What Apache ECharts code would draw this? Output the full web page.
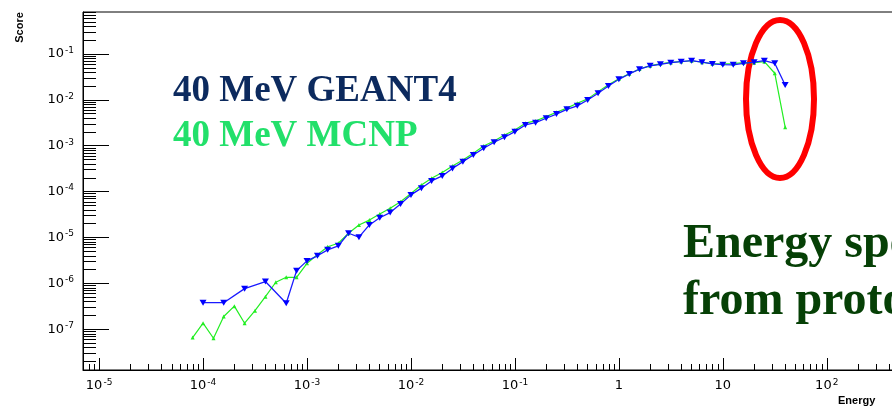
<!DOCTYPE html>
<html>
<head>
<meta charset="utf-8">
<script src="https://cdn.jsdelivr.net/npm/echarts@6/dist/echarts.min.js"></script>
<style>
  html, body { margin: 0; padding: 0; background: #fff; }
  #chart { width: 892px; height: 410px; }
</style>
</head>
<body>
<div id="chart"></div>
<script>
// Energy bin centres (MeV), ten log bins per decade
const energyBins = [
  7.94e-5,
  1.00e-4, 1.26e-4, 1.58e-4, 2.00e-4, 2.51e-4, 3.16e-4, 3.98e-4, 5.01e-4, 6.31e-4, 7.94e-4,
  1.00e-3, 1.26e-3, 1.58e-3, 2.00e-3, 2.51e-3, 3.16e-3, 3.98e-3, 5.01e-3, 6.31e-3, 7.94e-3,
  1.00e-2, 1.26e-2, 1.58e-2, 2.00e-2, 2.51e-2, 3.16e-2, 3.98e-2, 5.01e-2, 6.31e-2, 7.94e-2,
  0.100, 0.126, 0.158, 0.200, 0.251, 0.316, 0.398, 0.501, 0.631, 0.794,
  1.00, 1.26, 1.58, 2.00, 2.51, 3.16, 3.98, 5.01, 6.31, 7.94,
  10.0, 12.6, 15.8, 20.0, 25.1, 31.6, 39.8
];

// GEANT4 score per bin (null = empty bin)
const scoreGeant4 = [
  null,
  3.8e-7, null, 3.8e-7, null, 7.7e-7, null, 1.1e-6, null, 3.7e-7, 1.9e-6,
  3.1e-6, 4.0e-6, 5.4e-6, 6.6e-6, 1.24e-5, 1.02e-5, 1.88e-5, 2.7e-5, 3.5e-5, 5.4e-5,
  8.5e-5, 1.19e-4, 1.71e-4, 2.2e-4, 3.2e-4, 4.5e-4, 6.3e-4, 8.8e-4, 1.19e-3, 1.53e-3,
  2.03e-3, 2.84e-3, 3.18e-3, 3.97e-3, 4.9e-3, 6.2e-3, 7.4e-3, 9.95e-3, 1.39e-2, 2.0e-2,
  2.8e-2, 3.65e-2, 4.65e-2, 5.5e-2, 5.95e-2, 6.45e-2, 6.8e-2, 7.15e-2, 6.6e-2, 6.05e-2,
  5.85e-2, 5.8e-2, 6.25e-2, 6.6e-2, 7.15e-2, 6.25e-2, 2.1e-2
];

// MCNP score per bin
const scoreMcnp = [
  6.6e-8,
  1.36e-7, 6.4e-8, 1.9e-7, 3.2e-7, 1.36e-7, 2.55e-7, 5.15e-7, 1.06e-6, 1.36e-6, 1.36e-6,
  2.75e-6, 4.2e-6, 6.3e-6, 7.5e-6, 1.24e-5, 1.88e-5, 2.4e-5, 3.25e-5, 4.35e-5, 6.05e-5,
  9.1e-5, 1.4e-4, 1.96e-4, 2.6e-4, 3.63e-4, 4.9e-4, 6.9e-4, 9.9e-4, 1.27e-3, 1.72e-3,
  2.21e-3, 3.1e-3, 3.47e-3, 4.3e-3, 5.37e-3, 6.6e-3, 8.4e-3, 1.05e-2, 1.51e-2, 2.14e-2,
  2.88e-2, 3.7e-2, 4.7e-2, 5.55e-2, 6.1e-2, 6.55e-2, 6.85e-2, 7.1e-2, 6.6e-2, 6.15e-2,
  6.1e-2, 6.15e-2, 6.45e-2, 6.45e-2, 6.8e-2, 3.8e-2, 2.53e-3
];

// Decade ticks and labels on each axis
const xDecadeTicks = [1e-5, 1e-4, 1e-3, 1e-2, 1e-1, 1, 10, 100, 1000];
const xTickLabels = [1e-5, 1e-4, 1e-3, 1e-2, 1e-1, 1, 10, 100];
const yTickLabels = [1e-7, 1e-6, 1e-5, 1e-4, 1e-3, 1e-2, 1e-1];

const X_MIN = 7e-6, X_MAX = 2e3;
const Y_MIN = 1.3e-8, Y_MAX = 0.82;

// 2..9 x 10^n sub-decade tick positions inside a range
function minorTicks(lo, hi) {
  const out = [];
  for (let n = -10; n <= 4; n++) {
    for (let k = 2; k <= 9; k++) {
      const v = k * Math.pow(10, n);
      if (v >= lo && v <= hi) out.push(v);
    }
  }
  return out;
}

function decadeLabel(v) {
  const e = Math.round(Math.log10(v));
  if (e === 0) return '1';
  if (e === 1) return '10';
  return '10{sup|' + e + '}';
}

const labelRich = {
  sup: { fontSize: 9, fontFamily: 'DejaVu Sans', color: '#000', verticalAlign: 'top', lineHeight: 9, padding: [0, 0, 0, 1] }
};

const chart = echarts.init(document.getElementById('chart'), null, { renderer: 'canvas' });

const tickLine = { color: '#000', width: 1 };

chart.setOption({
  animation: false,
  backgroundColor: '#fff',
  grid: {
    left: 83, top: 12, width: 879, height: 358,
    outerBoundsMode: 'none', containLabel: false,
    show: true, borderColor: '#000', borderWidth: 1, backgroundColor: 'transparent'
  },
  xAxis: [
    {
      type: 'log', logBase: 10, min: X_MIN, max: X_MAX, position: 'bottom',
      axisLine: { show: true, lineStyle: tickLine },
      axisTick: { show: true, inside: true, length: 12, lineStyle: tickLine, customValues: xDecadeTicks },
      axisLabel: {
        show: true, customValues: xTickLabels, formatter: decadeLabel, margin: 8,
        fontFamily: 'DejaVu Sans', fontSize: 13, color: '#000', lineHeight: 16, rich: labelRich
      },
      splitLine: { show: false }, minorTick: { show: false }
    },
    {
      type: 'log', logBase: 10, min: X_MIN, max: X_MAX, position: 'bottom',
      axisLine: { show: false },
      axisTick: { show: true, inside: true, length: 6, lineStyle: tickLine, customValues: minorTicks(X_MIN, X_MAX) },
      axisLabel: { show: false }, splitLine: { show: false }
    }
  ],
  yAxis: [
    {
      type: 'log', logBase: 10, min: Y_MIN, max: Y_MAX, position: 'left',
      axisLine: { show: true, lineStyle: tickLine },
      axisTick: { show: true, inside: true, length: 26, lineStyle: tickLine, customValues: yTickLabels },
      axisLabel: {
        show: true, customValues: yTickLabels, formatter: decadeLabel, margin: 9,
        fontFamily: 'DejaVu Sans', fontSize: 13, color: '#000', lineHeight: 16, rich: labelRich
      },
      splitLine: { show: false }, minorTick: { show: false }
    },
    {
      type: 'log', logBase: 10, min: Y_MIN, max: Y_MAX, position: 'left',
      axisLine: { show: false },
      axisTick: { show: true, inside: true, length: 13, lineStyle: tickLine, customValues: minorTicks(Y_MIN, Y_MAX) },
      axisLabel: { show: false }, splitLine: { show: false }
    }
  ],
  series: [
    {
      name: '40 MeV MCNP', type: 'line', xAxisIndex: 0, yAxisIndex: 0,
      data: energyBins.map((e, i) => [e, scoreMcnp[i]]),
      connectNulls: true,
      lineStyle: { color: '#22ee22', width: 1.2 },
      itemStyle: { color: '#22ee22' },
      symbol: 'triangle', symbolSize: 4, showSymbol: true
    },
    {
      name: '40 MeV GEANT4', type: 'line', xAxisIndex: 0, yAxisIndex: 0,
      data: energyBins.map((e, i) => [e, scoreGeant4[i]]),
      connectNulls: true,
      lineStyle: { color: '#1a1aff', width: 1.3 },
      itemStyle: { color: '#0000ff' },
      symbol: 'triangle', symbolRotate: 180, symbolSize: [7, 6], showSymbol: true
    }
  ],
  graphic: [
    {
      type: 'text', x: 20, y: 27.5, rotation: Math.PI / 2,
      style: { text: 'Score', font: 'bold 11px "Liberation Sans"', fill: '#000', align: 'center', verticalAlign: 'middle' }
    },
    {
      type: 'text', x: 838, y: 401,
      style: { text: 'Energy', font: 'bold 11px "Liberation Sans"', fill: '#000', align: 'left', verticalAlign: 'middle' }
    },
    {
      type: 'text', x: 173, y: 91,
      style: { text: '40 MeV GEANT4', font: 'bold 37px "Liberation Serif"', fill: '#0c2a5e', align: 'left', verticalAlign: 'middle' }
    },
    {
      type: 'text', x: 173, y: 136.5,
      style: { text: '40 MeV MCNP', font: 'bold 37px "Liberation Serif"', fill: '#22e06a', align: 'left', verticalAlign: 'middle' }
    },
    {
      type: 'text', x: 683, y: 245,
      style: { text: 'Energy spectrum', font: 'bold 48px "Liberation Serif"', fill: '#064006', align: 'left', verticalAlign: 'middle' }
    },
    {
      type: 'text', x: 683, y: 302,
      style: { text: 'from protons', font: 'bold 48px "Liberation Serif"', fill: '#064006', align: 'left', verticalAlign: 'middle' }
    },
    {
      type: 'ellipse', shape: { cx: 780, cy: 99, rx: 34, ry: 79 },
      style: { fill: 'none', stroke: '#ff0000', lineWidth: 6 }
    }
  ]
});
</script>
</body>
</html>
